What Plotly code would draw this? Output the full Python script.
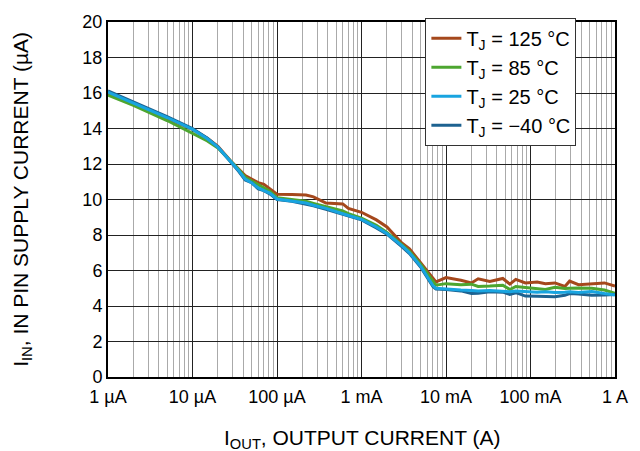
import plotly.graph_objects as go

# Output current sweep (A)
i_out = [1e-6, 2e-6, 5e-6, 1e-5, 1.5e-5, 2e-5, 2.8e-5, 3.5e-5, 4.2e-5, 5e-5,
         6e-5, 7e-5, 8.3e-5, 1e-4, 1.5e-4, 2.2e-4, 2.7e-4, 3.8e-4, 6e-4, 7e-4,
         1e-3, 1.5e-3, 2e-3, 3e-3, 3.7e-3, 5e-3, 7e-3, 7.6e-3, 1e-2, 1.5e-2,
         2e-2, 2.4e-2, 3.3e-2, 4.7e-2, 5.7e-2, 6.7e-2, 8.7e-2, 1.2e-1, 1.5e-1, 1.95e-1,
         2.55e-1, 2.9e-1, 3.7e-1, 5.3e-1, 7.5e-1, 1.0]

# IN pin supply current (uA) per junction temperature
i_in_125 = [16.0, 15.38, 14.57, 13.95, 13.45, 13.0, 12.2, 11.75, 11.35, 11.15,
            10.95, 10.85, 10.6, 10.3, 10.28, 10.25, 10.15, 9.8, 9.75, 9.5,
            9.28, 8.85, 8.45, 7.55, 7.22, 6.45, 5.6, 5.36, 5.6, 5.45,
            5.3, 5.53, 5.38, 5.55, 5.23, 5.5, 5.3, 5.35, 5.25, 5.3,
            5.1, 5.4, 5.2, 5.25, 5.3, 5.12]
i_in_85 = [15.88, 15.3, 14.45, 13.75, 13.3, 12.9, 12.2, 11.7, 11.25, 11.05,
           10.8, 10.65, 10.45, 10.1, 10.0, 9.9, 9.78, 9.6, 9.35, 9.2,
           8.95, 8.55, 8.15, 7.45, 7.08, 6.35, 5.35, 5.17, 5.26, 5.2,
           5.23, 5.1, 5.12, 5.17, 4.93, 5.1, 5.04, 5.0, 4.93, 5.05,
           4.98, 5.0, 5.02, 5.0, 4.9, 4.72]
i_in_25 = [16.05, 15.43, 14.62, 13.95, 13.42, 12.95, 12.15, 11.65, 11.15, 10.95,
           10.65, 10.5, 10.35, 10.03, 9.92, 9.8, 9.68, 9.5, 9.2, 9.1,
           8.88, 8.45, 8.08, 7.4, 7.0, 6.25, 5.15, 5.0, 4.95, 4.9,
           4.88, 4.85, 4.88, 4.82, 4.8, 4.85, 4.8, 4.78, 4.8, 4.76,
           4.78, 4.8, 4.76, 4.82, 4.7, 4.62]
i_in_m40 = [16.12, 15.5, 14.67, 14.0, 13.45, 12.95, 12.15, 11.6, 11.1, 10.95,
            10.6, 10.5, 10.3, 10.0, 9.9, 9.75, 9.65, 9.45, 9.15, 9.05,
            8.85, 8.4, 8.05, 7.35, 6.95, 6.2, 5.1, 4.95, 4.93, 4.85,
            4.7, 4.72, 4.8, 4.78, 4.65, 4.75, 4.56, 4.55, 4.52, 4.52,
            4.6, 4.7, 4.68, 4.6, 4.62, 4.65]

x_tickvals = [1e-6, 1e-5, 1e-4, 1e-3, 1e-2, 1e-1, 1]
x_ticktext = ["1 µA", "10 µA", "100 µA", "1 mA", "10 mA", "100 mA", "1 A"]

FONT = "Liberation Sans, Arial, sans-serif"

series = [
    ("T<sub>J</sub> = 125 °C", i_in_125, "#A5481C", 1),
    ("T<sub>J</sub> = 85 °C", i_in_85, "#4DA630", 2),
    ("T<sub>J</sub> = −40 °C", i_in_m40, "#1D6290", 4),
    ("T<sub>J</sub> = 25 °C", i_in_25, "#18A4E0", 3),
]

fig = go.Figure()
for name, y, color, rank in series:
    fig.add_trace(go.Scatter(
        x=i_out, y=y, mode="lines", name=name, legendrank=rank,
        line=dict(color=color, width=3, shape="linear"),
    ))

minor_vals = [m * 10 ** k for k in range(-6, 0) for m in range(2, 10)]

fig.update_layout(
    width=640, height=451,
    margin=dict(l=108, r=16, t=16, b=74),
    paper_bgcolor="white", plot_bgcolor="white",
    font=dict(family=FONT, size=19, color="black"),
    showlegend=True,
    legend=dict(
        x=0.626, y=1.012, xanchor="left", yanchor="top",
        bgcolor="white", bordercolor="#333", borderwidth=1,
        font=dict(family=FONT, size=20, color="black"),
        tracegroupgap=0, itemwidth=30,
    ),
    xaxis=dict(
        type="log", range=[-6, 0],
        tickvals=x_tickvals, ticktext=x_ticktext,
        showgrid=True, gridcolor="#222", gridwidth=1,
        minor=dict(tickvals=minor_vals, showgrid=True, gridcolor="#AAAAAA",
                   gridwidth=1, ticks=""),
        showline=True, linecolor="black", linewidth=2, mirror=True,
        ticks="", zeroline=False, ticklabelstandoff=2,
        tickfont=dict(family=FONT, size=18),
    ),
    yaxis=dict(
        range=[0, 20], dtick=2, tick0=0,
        showgrid=True, gridcolor="#222", gridwidth=1,
        showline=True, linecolor="black", linewidth=2, mirror=True,
        ticks="", zeroline=False,
        tickfont=dict(family=FONT, size=18),
    ),
    annotations=[
        dict(text="I<sub>OUT</sub>, OUTPUT CURRENT (A)", xref="paper", yref="paper",
             x=0.5, y=-0.175, xanchor="center", yanchor="middle", showarrow=False,
             font=dict(family=FONT, size=21)),
        dict(text="I<sub>IN</sub>, IN PIN SUPPLY CURRENT (µA)", xref="paper", yref="paper",
             x=-0.171, y=0.5, xanchor="center", yanchor="middle", showarrow=False,
             textangle=-90, font=dict(family=FONT, size=21)),
    ],
)

fig.write_html("out.html")
